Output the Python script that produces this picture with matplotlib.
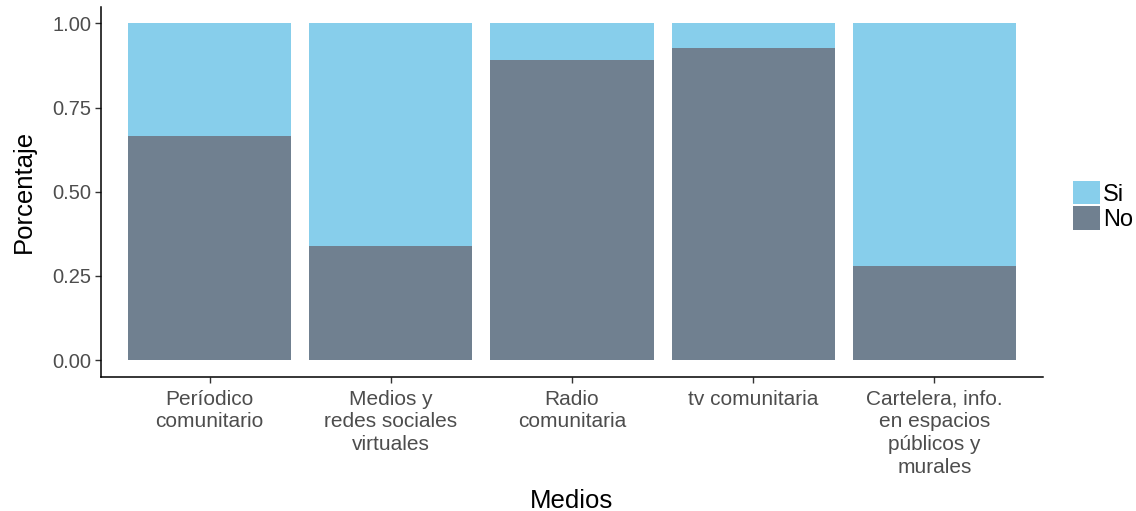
import matplotlib
matplotlib.use("Agg")
import matplotlib.pyplot as plt
import numpy as np

plt.rcParams['font.family'] = ['Liberation Sans', 'DejaVu Sans']

categories = ["Períodico\ncomunitario", "Medios y\nredes sociales\nvirtuales",
              "Radio\ncomunitaria", "tv comunitaria",
              "Cartelera, info.\nen espacios\npúblicos y\nmurales"]
no_vals = [0.667, 0.339, 0.892, 0.926, 0.281]
si_vals = [1 - v for v in no_vals]
yticks = [0.00, 0.25, 0.50, 0.75, 1.00]

c_si = "#87CEEB"
c_no = "#708090"

fig = plt.figure(figsize=(11.36, 5.11), dpi=100)
ax = fig.add_axes([101/1136, 1 - 377/511, (1043-101)/1136, (377-6.6)/511])

x = np.arange(1, len(categories) + 1)
ax.bar(x, no_vals, width=0.9, color=c_no, label="No")
ax.bar(x, si_vals, width=0.9, bottom=no_vals, color=c_si, label="Si")

ax.set_xlim(0.4, len(categories) + 0.6)
ax.set_ylim(-0.05, 1.05)
ax.set_xticks(x)
ax.set_xticklabels(categories, fontsize=15, color="#4D4D4D", linespacing=1.25)
ax.set_yticks(yticks)
ax.set_yticklabels([f"{v:.2f}" for v in yticks], fontsize=14.5, color="#4D4D4D")
ax.tick_params(axis='both', length=4, width=1, color="#333333", pad=3)
ax.tick_params(axis='x', pad=5)
ax.spines['top'].set_visible(False)
ax.spines['right'].set_visible(False)
for s in ['left', 'bottom']:
    ax.spines[s].set_linewidth(1.1)
    ax.spines[s].set_color("black")

ax.set_xlabel("Medios", fontsize=18.5)
ax.xaxis.set_label_coords(0.5, -0.302)
ax.set_ylabel("Porcentaje", fontsize=18.5, labelpad=12)

handles, labels = ax.get_legend_handles_labels()
leg = fig.legend(handles[::-1], labels[::-1], loc='center left',
                 bbox_to_anchor=(1073/1136, 1 - 206/511), frameon=False,
                 fontsize=17, handlelength=1.14, handleheight=1.14,
                 handletextpad=0.12, labelspacing=0.04, borderpad=0,
                 borderaxespad=0)

fig.savefig("out.png", dpi=100)
